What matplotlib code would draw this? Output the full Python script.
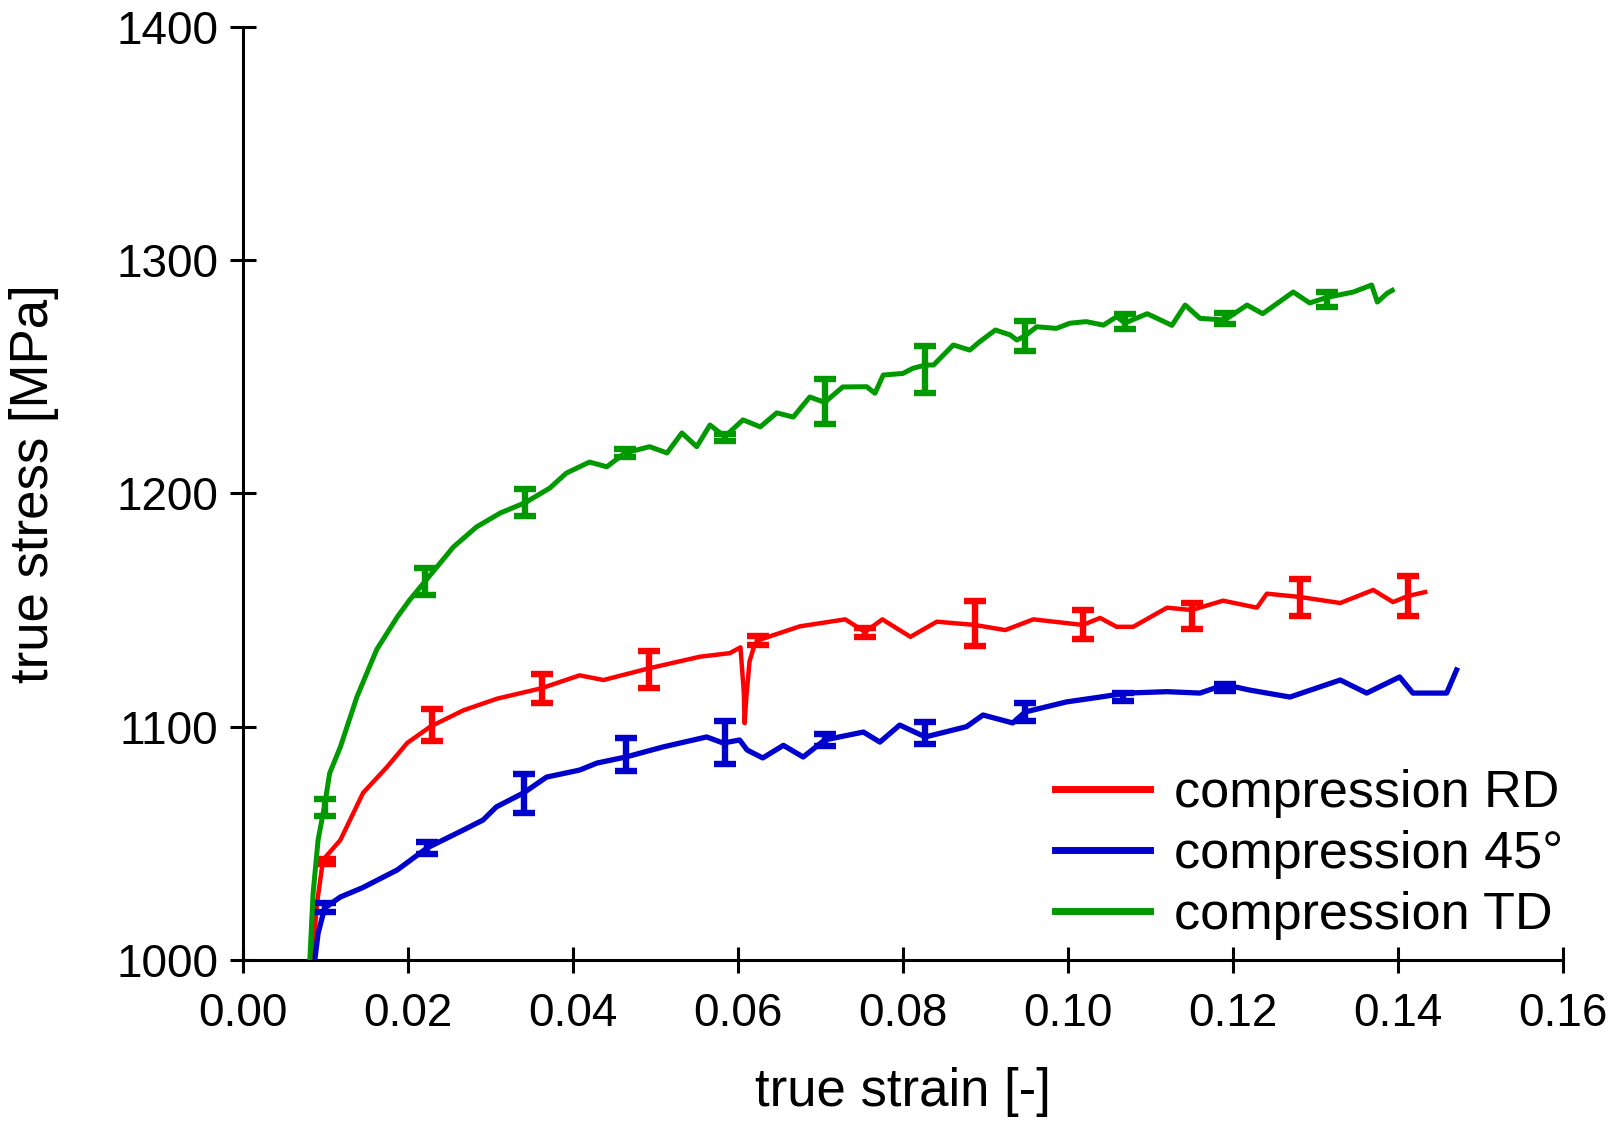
import matplotlib
matplotlib.use('Agg')
import matplotlib.pyplot as plt

plt.rcParams['font.family'] = ['Liberation Sans', 'DejaVu Sans']

RED = '#ff0000'
BLUE = '#0000cc'
GREEN = '#009900'

# compression RD
rd_strain = [0.0084, 0.0090, 0.0097, 0.0118, 0.01455, 0.01745, 0.0199, 0.0227, 0.0267, 0.0308,
             0.0362, 0.0408, 0.0437, 0.0492, 0.0554, 0.0590, 0.0603, 0.0607, 0.0608, 0.0610,
             0.0614, 0.0620, 0.0624, 0.0675, 0.0730, 0.0754, 0.0775, 0.0809, 0.0841, 0.0887,
             0.0924, 0.0958, 0.1018, 0.1039, 0.1059, 0.1079, 0.1120, 0.1150, 0.1188, 0.1229,
             0.1241, 0.1281, 0.1330, 0.1370, 0.1394, 0.1412, 0.1433]
rd_stress = [1000, 1025, 1042.9, 1051.4, 1071.6, 1082.7, 1093, 1100, 1107, 1112,
             1116.5, 1122, 1120, 1125, 1130, 1131.5, 1134, 1115, 1101.5, 1112,
             1128, 1135, 1137, 1143, 1146, 1140.6, 1146, 1138.5, 1145, 1143.6,
             1141.4, 1146, 1143.6, 1146.6, 1142.8, 1142.8, 1151, 1150, 1154, 1151,
             1157, 1155.6, 1153, 1158.6, 1153.4, 1156, 1157.7]
rd_eb_x = [0.0099, 0.0229, 0.0362, 0.0492, 0.0624, 0.0754, 0.0887, 0.1018, 0.1150, 0.1281, 0.1412]
rd_eb_y = [1042.1, 1100.7, 1116.4, 1124.6, 1137, 1140.4, 1144.3, 1143.8, 1147.5, 1155.4, 1156]
rd_eb_err = [1.1, 6.8, 6.1, 7.9, 1.9, 2.1, 9.6, 6.4, 5.7, 7.9, 8.6]

# compression 45
d45_strain = [0.0087, 0.0091, 0.0099, 0.0118, 0.0145, 0.0187, 0.0223, 0.0267, 0.0291, 0.0307,
              0.0340, 0.0368, 0.0408, 0.0429, 0.0464, 0.0509, 0.0562, 0.0582, 0.0602, 0.0611,
              0.0630, 0.0655, 0.0679, 0.0705, 0.0752, 0.0772, 0.0796, 0.0827, 0.0877, 0.0897,
              0.0933, 0.0948, 0.0998, 0.1039, 0.1071, 0.1120, 0.1160, 0.1190, 0.1220, 0.1269,
              0.1330, 0.1362, 0.1402, 0.1418, 0.1459, 0.1471]
d45_stress = [1000, 1011.4, 1022.3, 1027, 1031, 1038.6, 1048, 1055.7, 1060, 1065.6,
              1071.6, 1078.4, 1081.4, 1084.4, 1087, 1091.3, 1095.6, 1093, 1094.3, 1090,
              1086.6, 1092, 1087, 1094.3, 1097.7, 1093.4, 1100.7, 1095.6, 1100, 1105,
              1101.6, 1106.3, 1110.6, 1112.7, 1114.4, 1115, 1114.4, 1118, 1115.7, 1112.7,
              1120, 1114.4, 1121.3, 1114.4, 1114.4, 1124.3]
d45_eb_x = [0.0099, 0.0223, 0.0340, 0.0464, 0.0584, 0.0705, 0.0827, 0.0948, 0.1067, 0.1190]
d45_eb_y = [1022.5, 1047.9, 1071.4, 1088.2, 1093.2, 1094.3, 1097.2, 1106.4, 1112.9, 1116.8]
d45_eb_err = [2.0, 2.6, 8.2, 7.1, 9.3, 2.5, 4.6, 3.9, 1.7, 1.4]

# compression TD
td_strain = [0.0081, 0.0085, 0.0091, 0.0099, 0.0105, 0.0118, 0.0138, 0.0162, 0.0187, 0.0202,
             0.0220, 0.0255, 0.0283, 0.0312, 0.0342, 0.0372, 0.0392, 0.0420, 0.0441, 0.0463,
             0.0493, 0.0514, 0.0532, 0.0550, 0.0566, 0.0584, 0.0606, 0.0627, 0.0647, 0.0667,
             0.0687, 0.0705, 0.0727, 0.0756, 0.0766, 0.0776, 0.0800, 0.0812, 0.0827, 0.0837,
             0.0861, 0.0881, 0.0893, 0.0912, 0.0930, 0.0938, 0.0948, 0.0962, 0.0986, 0.1002,
             0.1022, 0.1043, 0.1059, 0.1069, 0.1096, 0.1126, 0.1142, 0.1160, 0.1190, 0.1217,
             0.1236, 0.1273, 0.1293, 0.1314, 0.1346, 0.1368, 0.1375, 0.1387, 0.1393]
td_stress = [1000, 1028.7, 1051.4, 1066.4, 1080, 1091.3, 1112.7, 1133, 1147, 1154.3,
             1162, 1177, 1185.6, 1191.6, 1196, 1202.3, 1208.7, 1213.4, 1211.4, 1217.3,
             1220, 1217.3, 1225.9, 1220, 1229.3, 1224.3, 1231.5, 1228.5, 1234.5, 1232.7,
             1241.3, 1239, 1245.6, 1245.7, 1242.9, 1250.7, 1251.4, 1253.6, 1255, 1255,
             1263.6, 1261.4, 1265, 1270, 1267.9, 1265.7, 1267.5, 1271.4, 1270.7, 1272.9,
             1273.6, 1272.1, 1275.7, 1273, 1277, 1272, 1280.7, 1275, 1274.3, 1280.7,
             1277, 1286.3, 1281.6, 1284, 1286.3, 1289.3, 1282, 1285.8, 1287]
td_eb_x = [0.0099, 0.0220, 0.0342, 0.0463, 0.0584, 0.0705, 0.0827, 0.0948, 0.1069, 0.1190, 0.1314]
td_eb_y = [1065.4, 1162.1, 1196.1, 1217.2, 1224, 1239.3, 1253.2, 1267.5, 1273.6, 1275, 1282.9]
td_eb_err = [3.6, 5.8, 5.7, 1.8, 1.4, 9.6, 10, 6.4, 3.2, 2.5, 3.2]

series = [
    ('compression RD', rd_strain, rd_stress, rd_eb_x, rd_eb_y, rd_eb_err, RED, 3.2),
    ('compression 45°', d45_strain, d45_stress, d45_eb_x, d45_eb_y, d45_eb_err, BLUE, 3.8),
    ('compression TD', td_strain, td_stress, td_eb_x, td_eb_y, td_eb_err, GREEN, 3.6),
]

fig = plt.figure(figsize=(16.22, 11.22), dpi=100)
ax = fig.add_axes([243 / 1622, 1 - 960 / 1122, 1320 / 1622, (960 - 26.7) / 1122])

for label, xs, ys, ex, ey, ee, color, lw in series:
    ax.plot(xs, ys, color=color, linewidth=lw, label=label, zorder=3)
    ax.errorbar(ex, ey, yerr=ee, fmt='none', ecolor=color, elinewidth=4.6,
                capsize=8, capthick=4.6, zorder=3)

ax.set_xlim(0, 0.16)
ax.set_ylim(1000, 1400)
ax.set_xticks([0.00, 0.02, 0.04, 0.06, 0.08, 0.10, 0.12, 0.14, 0.16])
ax.set_yticks([1000, 1100, 1200, 1300, 1400])
ax.xaxis.set_major_formatter(matplotlib.ticker.FormatStrFormatter('%.2f'))

for side in ['top', 'right']:
    ax.spines[side].set_visible(False)
for side in ['left', 'bottom']:
    ax.spines[side].set_linewidth(2.2)

ax.tick_params(axis='both', direction='inout', length=18.7, width=2.2, labelsize=33)
ax.tick_params(axis='x', pad=14)
ax.tick_params(axis='y', pad=8.5)

ax.set_xlabel('true strain [-]', fontsize=38, va='center')
ax.set_ylabel('true stress [MPa]', fontsize=38, va='center')
ax.xaxis.set_label_coords(0.5, -0.1415)
ax.yaxis.set_label_coords(-0.158, 0.510)

leg = ax.legend(loc='upper left', bbox_to_anchor=(1055 / 1622, 1 - 769 / 1122),
                bbox_transform=fig.transFigure, frameon=False, fontsize=37.5,
                handlelength=1.83, handletextpad=0.46, labelspacing=0.23,
                borderpad=0, borderaxespad=0)
for line in leg.get_lines():
    line.set_linewidth(5)

fig.savefig('out.png', dpi=100)
